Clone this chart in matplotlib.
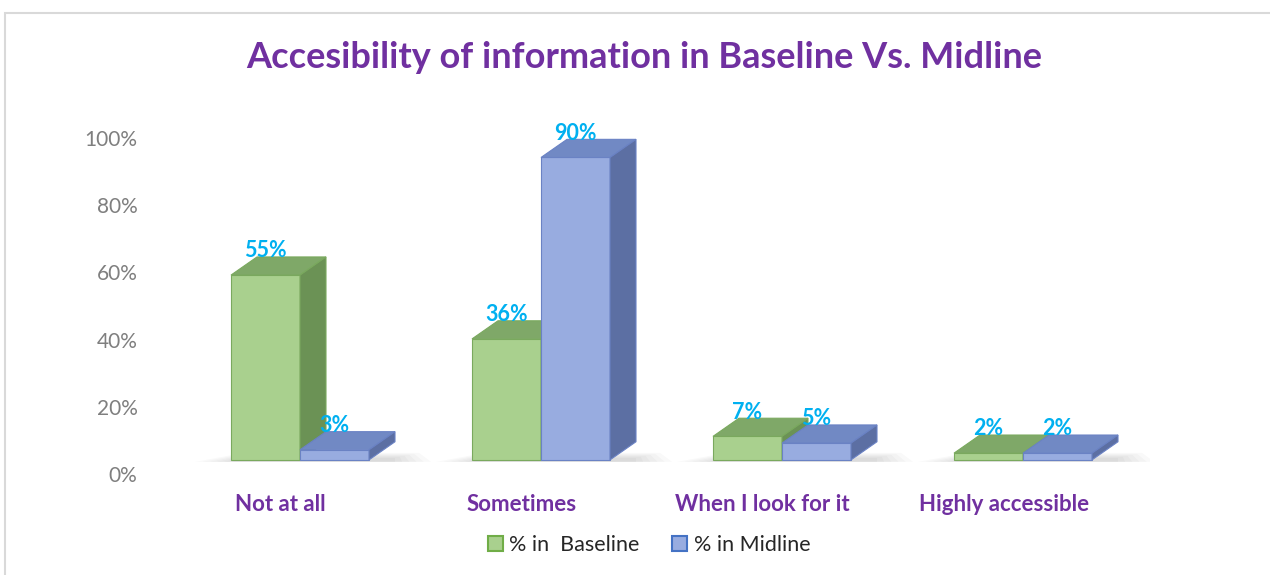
import matplotlib.pyplot as plt
from matplotlib.patches import Rectangle, Polygon
import numpy as np

# data
categories = ['Not at all', 'Sometimes', 'When I look for it', 'Highly accessible']
baseline = [55, 36, 7, 2]
midline = [3, 90, 5, 2]
series_names = ['% in  Baseline', '% in Midline']

# colours: front, top, side, edge
green = ['#a9d08e', '#7fa868', '#6b9255', '#7aa95e']
blue = ['#98ace0', '#7189c4', '#5c6fa3', '#6a82c4']
purple = '#7030a0'
label_blue = '#00b0f0'

plt.rcParams['font.family'] = ['Lato', 'DejaVu Sans']

fig = plt.figure(figsize=(12.7, 5.75), dpi=100)
W, H = 1270, 575

# light frame round the chart area
fig.patches.append(Rectangle((5 / W, -0.1), 1.2, 1 - 13 / H + 0.1, transform=fig.transFigure,
                             fill=False, edgecolor='#d9d9d9', linewidth=1.5))

ax = fig.add_axes([150 / W, 1 - 474 / H, 1000 / W, 336 / H])
ax.set_xlim((150 - 300) / 241, (1150 - 300) / 241)
ax.set_ylim(0, 100)

w = 69 / 241        # bar width in category units
dx = 26 / 241       # depth offset
dy = 5.4            # depth offset in %
floor = 4.2

def bar3d(x0, v, cols):
    top = floor + v
    ax.add_patch(Rectangle((x0, floor), w, v, facecolor=cols[0], edgecolor=cols[3], lw=0.8, zorder=3))
    ax.add_patch(Polygon([(x0, top), (x0 + w, top), (x0 + w + dx, top + dy), (x0 + dx, top + dy)],
                         closed=True, facecolor=cols[1], edgecolor=cols[3], lw=0.8, zorder=3))
    ax.add_patch(Polygon([(x0 + w, floor), (x0 + w + dx, floor + dy), (x0 + w + dx, top + dy), (x0 + w, top)],
                         closed=True, facecolor=cols[2], edgecolor=cols[3], lw=0.8, zorder=3))

for i, (b, m) in enumerate(zip(baseline, midline)):
    # soft floor shadow
    for k in range(6):
        ax.add_patch(Polygon([(i - w - 0.03 * k, floor - 0.6), (i + w + dx + 0.03 * k, floor - 0.6),
                              (i + w + dx + 0.02 * k, floor + 0.6 + 0.3 * k), (i - w + dx * 0.5, floor + 0.6 + 0.3 * k)],
                             closed=True, facecolor='#000000', alpha=0.025, lw=0, zorder=2))
    bar3d(i - w, b, green)
    bar3d(i, m, blue)
    ax.text(i - w / 2, floor + b + dy + 1.8, f'{b}%', color=label_blue, fontsize=15.5, fontweight='bold',
            ha='center', va='center', zorder=5)
    ax.text(i + w / 2, floor + m + dy + 1.8, f'{m}%', color=label_blue, fontsize=15.5, fontweight='bold',
            ha='center', va='center', zorder=5)
    ax.text(i - 0.08, -9, categories[i], color=purple, fontsize=16, fontweight='bold',
            ha='center', va='center')

ax.set_yticks(range(0, 101, 20))
ax.set_yticklabels([f'{t}%' for t in range(0, 101, 20)], fontsize=15, color='#7f7f7f')
ax.tick_params(axis='y', length=0, pad=9)
ax.set_xticks([])
for s in ax.spines.values():
    s.set_visible(False)

fig.text(644 / W, 1 - 58 / H, 'Accesibility of information in Baseline Vs. Midline', color=purple,
         fontsize=26, fontweight='bold', ha='center', va='center')

# legend
handles = [Rectangle((0, 0), 1, 1, facecolor=green[0], edgecolor='#70ad47', lw=1.5),
           Rectangle((0, 0), 1, 1, facecolor=blue[0], edgecolor='#4472c4', lw=1.5)]
fig.legend(handles, series_names, loc='center', bbox_to_anchor=(649 / W, 1 - 545 / H), ncol=2,
           frameon=False, fontsize=15.5, handlelength=0.7, handleheight=0.7, handletextpad=0.3,
           columnspacing=1.5, labelcolor='#262626')

fig.savefig('out.png', dpi=100)
